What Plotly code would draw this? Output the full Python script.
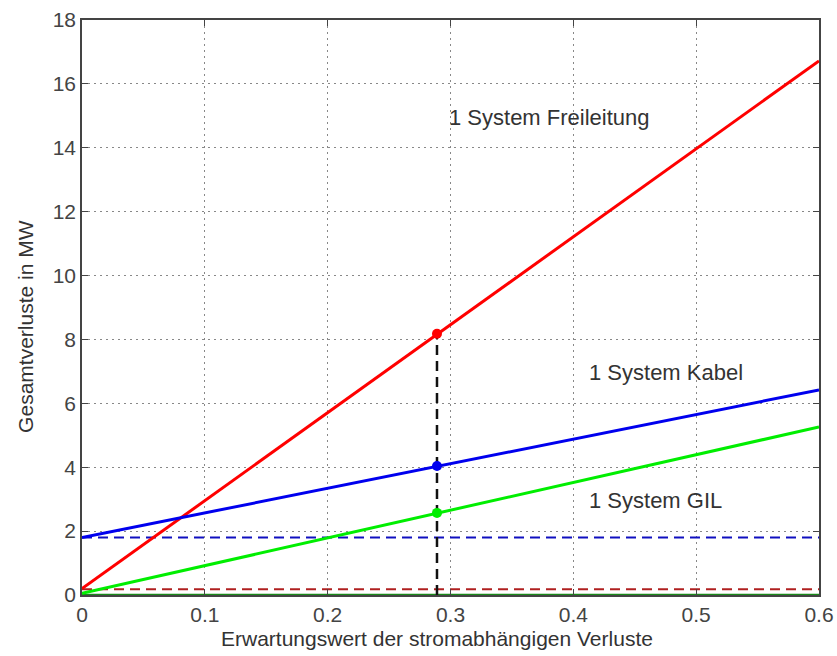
import plotly.graph_objects as go

# data
x_line = [0.0, 0.6]
freileitung = [0.2, 16.72]
kabel = [1.8, 6.42]
gil = [0.05, 5.26]
x_op = 0.289
op_freileitung = 8.18
op_kabel = 4.04
op_gil = 2.57
base_kabel = 1.8
base_freileitung = 0.18
base_gil = 0.0
labels = ["1 System Freileitung", "1 System Kabel", "1 System GIL"]
label_x = [0.297, 0.411, 0.411]
label_y = [14.96, 6.98, 2.97]

fig = go.Figure()
fig.add_trace(go.Scatter(x=x_line, y=[base_gil, base_gil], mode="lines",
                         line=dict(color="#1a8a1a", width=2.5), showlegend=False))
fig.add_trace(go.Scatter(x=x_line, y=[base_freileitung, base_freileitung], mode="lines",
                         line=dict(color="#b02020", width=2, dash="10px,6px"), showlegend=False))
fig.add_trace(go.Scatter(x=x_line, y=[base_kabel, base_kabel], mode="lines",
                         line=dict(color="#1010c0", width=2, dash="10px,6px"), showlegend=False))
fig.add_trace(go.Scatter(x=[x_op, x_op], y=[0, op_freileitung], mode="lines",
                         line=dict(color="#111111", width=2.5, dash="10px,6px"), showlegend=False))
fig.add_trace(go.Scatter(x=x_line, y=freileitung, mode="lines",
                         line=dict(color="#ff0000", width=3), showlegend=False))
fig.add_trace(go.Scatter(x=x_line, y=kabel, mode="lines",
                         line=dict(color="#0000ee", width=3), showlegend=False))
fig.add_trace(go.Scatter(x=x_line, y=gil, mode="lines",
                         line=dict(color="#00ee00", width=3), showlegend=False))
fig.add_trace(go.Scatter(x=[x_op], y=[op_freileitung], mode="markers",
                         marker=dict(color="#ff0000", size=10), showlegend=False))
fig.add_trace(go.Scatter(x=[x_op], y=[op_kabel], mode="markers",
                         marker=dict(color="#0000ee", size=10), showlegend=False))
fig.add_trace(go.Scatter(x=[x_op], y=[op_gil], mode="markers",
                         marker=dict(color="#00ee00", size=10), showlegend=False))

for t, lx, ly in zip(labels, label_x, label_y):
    fig.add_annotation(x=lx, y=ly, text=t, showarrow=False, xanchor="left",
                       yanchor="middle", font=dict(size=22, color="#333333"))

fig.add_annotation(xref="paper", yref="paper", x=0.482, y=-0.075,
                   text="Erwartungswert der stromabhängigen Verluste", showarrow=False,
                   xanchor="center", yanchor="middle", font=dict(size=21, color="#333333"))
fig.add_annotation(xref="paper", yref="paper", x=-0.076, y=0.468,
                   text="Gesamtverluste in MW", showarrow=False, textangle=-90,
                   xanchor="center", yanchor="middle", font=dict(size=21, color="#333333"))

axis_common = dict(showline=True, linecolor="#444444", linewidth=1.5, mirror="ticks",
                   ticks="inside", ticklen=6, tickcolor="#444444",
                   showgrid=True, gridcolor="#888888", griddash="2px,4px", gridwidth=1,
                   zeroline=False, automargin=False,
                   tickfont=dict(size=21, color="#444444"))

fig.update_layout(
    width=837, height=656,
    margin=dict(l=82, r=18, t=20, b=61),
    plot_bgcolor="white", paper_bgcolor="white",
    font=dict(family="Liberation Sans, Arial, sans-serif", color="#333333"),
    xaxis=dict(range=[0, 0.6], tickvals=[0, 0.1, 0.2, 0.3, 0.4, 0.5, 0.6],
               ticktext=["0", "0.1", "0.2", "0.3", "0.4", "0.5", "0.6"],
               **axis_common),
    yaxis=dict(range=[0, 18], tickvals=list(range(0, 19, 2)), **axis_common),
)

fig.write_html("out.html", config={"displayModeBar": False},
               post_script="document.body.style.margin='0';document.body.style.overflow='hidden';")
